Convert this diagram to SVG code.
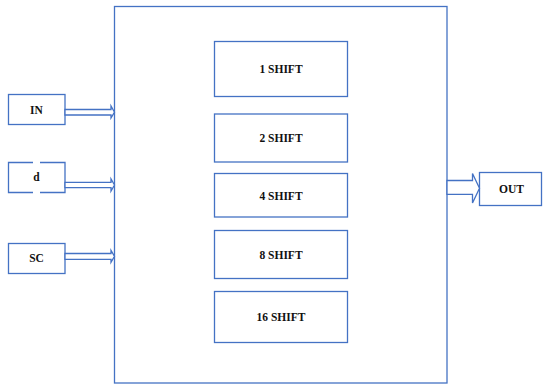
<svg xmlns="http://www.w3.org/2000/svg" width="543" height="385" viewBox="0 0 543 385">
  <style>
    .box { fill: #ffffff; stroke: #4472C4; stroke-width: 1.3; }
    .edge { fill: none; stroke: #4472C4; stroke-width: 1.3; }
    .arrow { fill: #ffffff; stroke: #4472C4; stroke-width: 1.3; stroke-linejoin: miter; }
    text { font-family: 'Liberation Serif', Tinos, 'DejaVu Serif', serif; font-weight: bold; font-size: 11.5px; fill: #111111; text-anchor: middle; dominant-baseline: central; }
  </style>
  <rect width="543" height="385" fill="#ffffff"/>

  <!-- barrel shifter block -->
  <g id="shifter">
    <rect class="box" x="114.5" y="6.5" width="332.5" height="376.5"/>
  </g>

  <g id="shift1">
    <rect class="box" x="214.5" y="41.5" width="133" height="55"/>
    <text font-family="Liberation Serif" x="281" y="69">1 SHIFT</text>
  </g>
  <g id="shift2">
    <rect class="box" x="214.5" y="114" width="133" height="48"/>
    <text font-family="Liberation Serif" x="281" y="138">2 SHIFT</text>
  </g>
  <g id="shift4">
    <rect class="box" x="214.5" y="173.5" width="133" height="43.5"/>
    <text font-family="Liberation Serif" x="281" y="195.5">4 SHIFT</text>
  </g>
  <g id="shift8">
    <rect class="box" x="214.5" y="230.5" width="133" height="48"/>
    <text font-family="Liberation Serif" x="281" y="254.5">8 SHIFT</text>
  </g>
  <g id="shift16">
    <rect class="box" x="214.5" y="291.5" width="133" height="51"/>
    <text font-family="Liberation Serif" x="281" y="317">16 SHIFT</text>
  </g>

  <!-- inputs -->
  <g id="in">
    <rect class="box" x="8.5" y="94.5" width="56.5" height="30"/>
    <text font-family="Liberation Serif" x="36.5" y="109.5">IN</text>
  </g>
  <g id="d">
    <rect x="8.5" y="162.5" width="56.5" height="30" fill="#ffffff"/>
    <path class="edge" d="M33,162.5 H8.5 V192.5 H33 M40,192.5 H65 V162.5 H40"/>
    <text font-family="Liberation Serif" x="36.5" y="177">d</text>
  </g>
  <g id="sc">
    <rect class="box" x="8.5" y="243.5" width="56.5" height="30"/>
    <text font-family="Liberation Serif" x="36.5" y="258">SC</text>
  </g>

  <!-- output -->
  <g id="out">
    <rect class="box" x="479.5" y="172.5" width="62" height="33"/>
    <text font-family="Liberation Serif" x="511.5" y="189">OUT</text>
  </g>

  <!-- bus arrows -->
  <g id="connectors">
    <polygon class="arrow" points="65,109.5 111,109.5 111,106 114.5,112.2 111,118 111,115 65,115"/>
    <polygon class="arrow" points="65,182.3 111,182.3 111,179 114.5,185 111,191 111,187.7 65,187.7"/>
    <polygon class="arrow" points="65,253.5 111,253.5 111,250.3 114.5,256.3 111,262.3 111,259.3 65,259.3"/>
    <polygon class="arrow" points="447,180.5 472.5,180.5 472.5,173.5 479.5,188.3 472.5,203 472.5,194.3 447,194.3"/>
  </g>
</svg>
